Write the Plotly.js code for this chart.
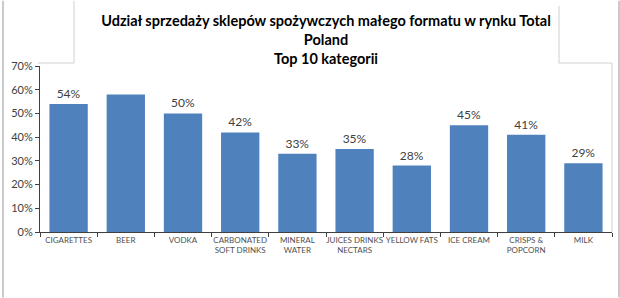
<!DOCTYPE html>
<html>
<head>
<meta charset="utf-8">
<script src="https://cdn.plot.ly/plotly-3.0.1.min.js"></script>
<style>html,body{margin:0;padding:0;background:#fff}#chart{width:620px;height:298px}</style>
</head>
<body>
<div id="chart"></div>
<script>
const categories = ["CIGARETTES", "BEER", "VODKA", "CARBONATED<br>SOFT DRINKS", "MINERAL<br>WATER", "JUICES DRINKS<br>NECTARS", "YELLOW FATS", "ICE CREAM", "CRISPS &<br>POPCORN", "MILK"];
const shares = [0.54, 0.58, 0.50, 0.42, 0.33, 0.35, 0.28, 0.45, 0.41, 0.29];
const labels = ["54%", "", "50%", "42%", "33%", "35%", "28%", "45%", "41%", "29%"];
const yTicks = [0, 0.1, 0.2, 0.3, 0.4, 0.5, 0.6, 0.7];
const yTickText = ["0%", "10%", "20%", "30%", "40%", "50%", "60%", "70%"];

const W = 620, H = 298;
const L = 40, R = 612, T = 65.5, B = 232.3;
const px = x => (x - L) / (R - L);
const py = y => (B - y) / (B - T);
const frame = '#d0d0d0';
function seg(x0, y0, x1, y1, c, w) {
  return {type: 'line', xref: 'paper', yref: 'paper', x0: px(x0), y0: py(y0), x1: px(x1), y1: py(y1),
          line: {color: c, width: w}, layer: 'below'};
}

const trace = {
  type: 'bar', x: categories, y: shares, text: labels,
  textposition: 'outside', cliponaxis: false,
  textfont: {family: 'Lato, "Open Sans", sans-serif', size: 12, color: '#404040'},
  marker: {color: '#4F81BD', line: {width: 0}},
  hoverinfo: 'none'
};

const layout = {
  width: W, height: H,
  margin: {l: L, r: W - R, t: T, b: H - B, pad: 0},
  paper_bgcolor: '#ffffff', plot_bgcolor: '#ffffff',
  bargap: 0.33,
  showlegend: false,
  title: {
    text: 'Udział sprzedaży sklepów spożywczych małego formatu w rynku Total<br>Poland<br>Top 10 kategorii',
    font: {family: 'Lato, "Open Sans", sans-serif', size: 14.5, color: '#000000', weight: 'bold'},
    x: 0.5, xref: 'paper', xanchor: 'center', y: 1 - 26 / H, yanchor: 'top'
  },
  xaxis: {
    type: 'category', tickson: 'boundaries', ticks: 'outside', ticklen: 4, tickcolor: '#404040', tickwidth: 1,
    showline: true, linecolor: '#404040', linewidth: 1, showgrid: false, zeroline: false,
    tickfont: {family: 'Lato, "Open Sans", sans-serif', size: 8, color: '#505050'},
    tickangle: 0, fixedrange: true
  },
  yaxis: {
    range: [0, 0.7], tickvals: yTicks, ticktext: yTickText,
    ticks: 'outside', ticklen: 4, tickcolor: '#404040', tickwidth: 1,
    showline: true, linecolor: '#404040', linewidth: 1, showgrid: false, zeroline: false,
    tickfont: {family: 'Lato, "Open Sans", sans-serif', size: 11, color: '#404040'},
    fixedrange: true
  },
  shapes: [
    seg(3, 0, 3, 298, '#b8b8b8', 1.5),
    seg(619, 0, 619, 298, '#b8b8b8', 1.5),
    seg(38, 62.5, 74, 62.5, frame, 1),
    seg(74, 0, 74, 62.5, frame, 1),
    seg(559, 5, 559, 62.5, frame, 1),
    seg(559, 62.5, 612, 62.5, frame, 1),
    seg(612, 62.5, 612, 232, frame, 1)
  ]
};

Plotly.newPlot('chart', [trace], layout, {displayModeBar: false, staticPlot: true});
</script>
</body>
</html>
